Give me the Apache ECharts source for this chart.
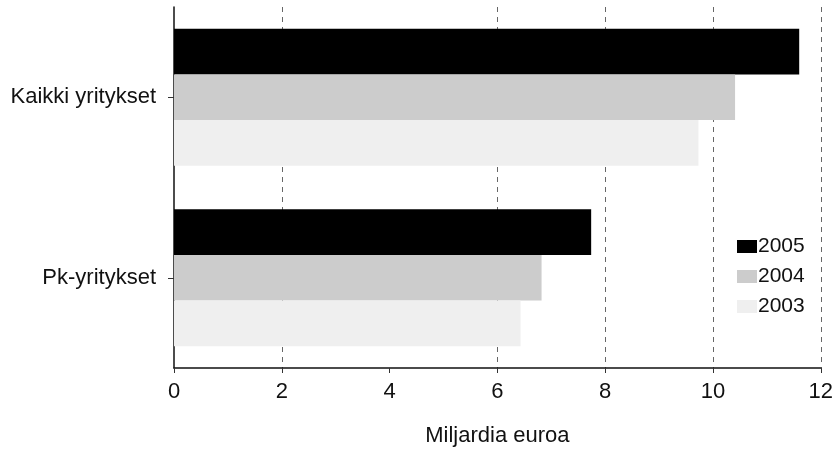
<!DOCTYPE html>
<html>
<head>
<meta charset="utf-8">
<script src="https://cdn.jsdelivr.net/npm/echarts@6/dist/echarts.min.js"></script>
<style>html,body{margin:0;padding:0;background:#fff;}#c{width:836px;height:452px;}</style>
</head>
<body>
<div id="c"></div>
<script>
const categories = ['Pk-yritykset', 'Kaikki yritykset'];
const years = ['2005', '2004', '2003'];
const values2003 = [6.43, 9.73];
const values2004 = [6.82, 10.41];
const values2005 = [7.74, 11.6];
const xTicks = [0, 2, 4, 6, 8, 10, 12];
const axisName = 'Miljardia euroa';

const FONT = '"Liberation Sans", Arial, sans-serif';
const colors = {'2003': '#efefef', '2004': '#cccccc', '2005': '#000000'};
const seriesValues = {'2003': values2003, '2004': values2004, '2005': values2005};

const chart = echarts.init(document.getElementById('c'), null, {renderer: 'canvas'});
chart.setOption({
  animation: false,
  backgroundColor: '#ffffff',
  textStyle: {fontFamily: FONT},
  grid: {left: 174, right: 14, top: 7, bottom: 83},
  legend: {
    data: years,
    orient: 'vertical',
    left: 732, top: 231,
    itemWidth: 20, itemHeight: 13, itemGap: 9,
    icon: 'rect',
    textStyle: {fontSize: 21, color: '#111', fontFamily: FONT, padding: [0, 0, 0, -4]}
  },
  xAxis: {
    type: 'value',
    min: xTicks[0], max: xTicks[xTicks.length - 1], interval: 2,
    name: axisName, nameLocation: 'middle', nameGap: 57,
    nameTextStyle: {fontSize: 22, color: '#111', fontFamily: FONT},
    axisLine: {show: true, lineStyle: {color: '#111', width: 1.5}},
    axisTick: {show: true, length: 5, lineStyle: {color: '#333'}},
    axisLabel: {fontSize: 22, color: '#111', margin: 13, fontFamily: FONT},
    splitLine: {show: true, lineStyle: {type: [5, 5], width: 1,
      color: ['rgba(0,0,0,0)', '#666', 'rgba(0,0,0,0)', '#666', '#666', '#666', '#666']}}
  },
  yAxis: {
    type: 'category',
    data: categories,
    axisLine: {show: true, lineStyle: {color: '#111', width: 1.5}},
    axisTick: {show: true, alignWithLabel: true, length: 6, lineStyle: {color: '#333'}},
    axisLabel: {fontSize: 22, color: '#111', margin: 18, fontFamily: FONT},
    splitLine: {show: false}
  },
  series: years.map(y => ({
    name: y,
    type: 'bar',
    data: seriesValues[y],
    barGap: '0%',
    barCategoryGap: '24%',
    itemStyle: {color: colors[y]}
  }))
});
</script>
</body>
</html>
